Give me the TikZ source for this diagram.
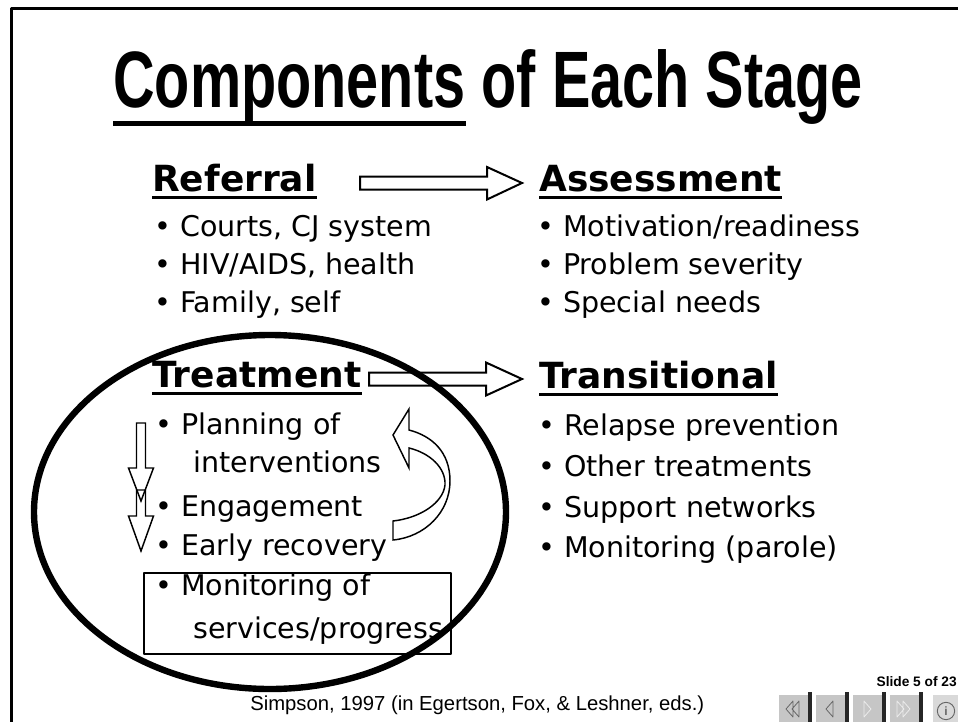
\documentclass[tikz,border=0pt]{standalone}
\usepackage{fontspec}
\setmainfont{DejaVu Sans}
\newfontfamily\titlefont[FakeStretch=0.72]{Liberation Sans}
\newfontfamily\arialfont{Liberation Sans}
\tikzset{
  head/.style={anchor=base west,inner sep=0pt,font=\fontsize{27}{31}\selectfont\bfseries},
  item/.style={anchor=base west,inner sep=0pt,font=\fontsize{21.4}{26}\selectfont},
  uline/.style={line width=2.6pt},
  blk/.style={line width=1.5pt,line join=miter},
  thinblk/.style={line width=1.1pt,line join=miter},
  navbtn/.style={fill=gray!45},
}
\begin{document}
\begin{tikzpicture}[x=0.75pt,y=-0.75pt,line join=round]
\useasboundingbox (0,0) rectangle (958,722);
% slide frame
\draw[line width=2.25pt] (11.5,722) -- (11.5,8.5) -- (958,8.5);
% title
\node[anchor=base west,inner sep=0pt,font=\titlefont\bfseries\fontsize{60}{70}\selectfont] (comp) at (113,107) {Components};
\node[anchor=base west,inner sep=0pt,font=\titlefont\bfseries\fontsize{60}{70}\selectfont] (stage) at (comp.base east) {\ of Each Stage};
\draw[line width=3.75pt] ([yshift=-12.4pt]comp.base west) -- ([yshift=-12.4pt]comp.base east);
% headings
\node[head] (ref) at (152,191) {Referral};
\node[head] (ass) at (539,191) {Assessment};
\node[head] (trt) at (152,387) {Treatment};
\node[head] (trn) at (539,388) {Transitional};
\foreach \h in {ref,ass,trt,trn}
  \draw[uline] ([yshift=-4.9pt]\h.base west) -- ([yshift=-4.9pt]\h.base east);
% referral and assessment items
\node[item] (r1) at (154,236) {• Courts, CJ system};
\node[item] (r2) at (154,274) {• HIV/AIDS, health};
\node[item] (r3) at (154,312) {• Family, self};
\node[item] (a1) at (537,236) {• Motivation/readiness};
\node[item] (a2) at (537,274) {• Problem severity};
\node[item] (a3) at (537,312) {• Special needs};
% treatment items
\node[item] (t1) at (155,434) {• Planning of};
\node[item] (t2) at (193,472) {interventions};
\node[item] (t3) at (155,516) {• Engagement};
\node[item] (t4) at (155,555) {• Early recovery};
\node[item] (t5) at (155,595) {• Monitoring of};
\node[item] (t6) at (193,638) {services/progress};
\draw[line width=1.5pt] (144,573) rectangle (451,654);
% transitional items
\node[item] (n1) at (538,435) {• Relapse prevention};
\node[item] (n2) at (538,476) {• Other treatments};
\node[item] (n3) at (538,517) {• Support networks};
\node[item] (n4) at (538,557) {• Monitoring (parole)};
% block arrows
\draw[blk] (360,176.5) -- (487,176.5) -- (487,167) -- (522,183) -- (487,199.5) -- (487,189.5) -- (360,189.5) -- cycle;
\draw[blk] (369,372.5) -- (486,372.5) -- (486,362.5) -- (522,379) -- (486,395.5) -- (486,385.5) -- (369,385.5) -- cycle;
\draw[thinblk] (136.5,423) -- (145.5,423) -- (145.5,468) -- (153.5,468) -- (141,501) -- (128.5,468) -- (136.5,468) -- cycle;
\draw[thinblk] (136.5,490) -- (145.5,490) -- (145.5,516) -- (153.5,516) -- (141,551) -- (128.5,516) -- (136.5,516) -- cycle;
\draw[thinblk] (393,540) .. controls (425,537) and (450,512) .. (450,481)
  .. controls (450,452) and (432,436) .. (409,430) -- (409,409) -- (393,435) -- (409,468) -- (409,448)
  .. controls (430,453) and (446,468) .. (445,485) .. controls (443,503) and (420,518) .. (393,521) -- cycle;
% ellipse round the treatment stage
\draw[line width=4.8pt] (270,512) ellipse [x radius=177pt, y radius=132.75pt];
% footer
\node[anchor=base west,inner sep=0pt,font=\arialfont\fontsize{15.2}{18}\selectfont] (cite) at (250,710) {Simpson, 1997 (in Egertson, Fox, \& Leshner, eds.)};
\node[anchor=base east,inner sep=0pt,font=\arialfont\bfseries\fontsize{10.3}{12}\selectfont] (slideno) at (957,686) {Slide 5 of 23};
% navigation buttons
\foreach \bx in {779,816,853,890}{
  \fill[navbtn] (\bx,695) rectangle ++(30,27);
  \fill[black!85] (\bx+29,692) rectangle ++(3.5,30);
}
\fill[gray!30] (933,695) rectangle (958,722);
\draw[black!60,line width=0.6pt] (786,709) -- (793,701) -- (793,717) -- cycle (792,709) -- (799,701) -- (799,717) -- cycle;
\draw[black!60,line width=0.6pt] (826,709) -- (833,701) -- (833,717) -- cycle;
\draw[gray!15,line width=0.6pt] (864,701) -- (871,709) -- (864,717) -- cycle;
\draw[gray!15,line width=0.6pt] (897,701) -- (904,709) -- (897,717) -- cycle (903,701) -- (910,709) -- (903,717) -- cycle;
\node[circle,draw=black!60,line width=0.7pt,minimum size=13pt,inner sep=0pt,font=\arialfont\fontsize{9}{10}\selectfont\bfseries,text=black!60] (info) at (946,711) {i};
\end{tikzpicture}
\end{document}
